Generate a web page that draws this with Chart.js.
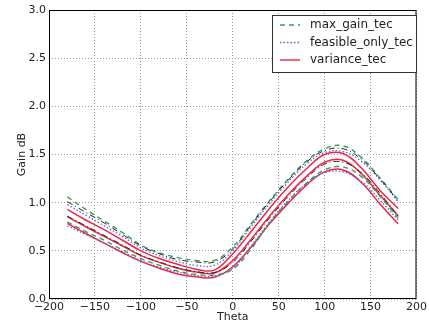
<!DOCTYPE html>
<html>
<head>
<meta charset="utf-8">
<script src="https://cdn.jsdelivr.net/npm/chart.js@4"></script>
<style>
  html, body { margin: 0; padding: 0; background: #fff; }
  #wrap { width: 429px; height: 324px; }
</style>
</head>
<body>
<div id="wrap"><canvas id="chartGain"></canvas></div>
<script>
// sudut (derajat)
const theta = [-180, -160, -140, -120, -100, -80, -60, -40, -20, 0, 20, 40, 60, 80, 100, 120, 140, 160, 180];

// max_gain_tec (atas / bawah)
const maxGainAtas  = [1.06, 0.93, 0.81, 0.69, 0.56, 0.48, 0.43, 0.40, 0.40, 0.54, 0.78, 1.02, 1.24, 1.43, 1.56, 1.59, 1.47, 1.26, 1.03];
const maxGainBawah = [0.80, 0.70, 0.61, 0.51, 0.42, 0.35, 0.29, 0.255, 0.25, 0.31, 0.52, 0.79, 1.01, 1.20, 1.34, 1.37, 1.27, 1.07, 0.84];

// feasible_only_tec (atas / bawah)
const feasibleAtas  = [0.98, 0.87, 0.76, 0.65, 0.53, 0.45, 0.39, 0.35, 0.35, 0.50, 0.75, 0.99, 1.21, 1.40, 1.52, 1.53, 1.43, 1.24, 1.01];
const feasibleBawah = [0.76, 0.67, 0.58, 0.49, 0.40, 0.33, 0.28, 0.245, 0.24, 0.32, 0.55, 0.80, 1.02, 1.20, 1.31, 1.32, 1.22, 1.03, 0.82];

// variance_tec (atas / tengah / bawah)
const varianceAtas   = [0.93, 0.82, 0.72, 0.61, 0.50, 0.42, 0.36, 0.31, 0.30, 0.47, 0.70, 0.94, 1.16, 1.35, 1.50, 1.51, 1.36, 1.13, 0.94];
const varianceTengah = [0.855, 0.75, 0.65, 0.55, 0.45, 0.38, 0.32, 0.28, 0.27, 0.40, 0.62, 0.86, 1.08, 1.27, 1.42, 1.44, 1.30, 1.08, 0.865];
const varianceBawah  = [0.785, 0.68, 0.58, 0.48, 0.39, 0.32, 0.26, 0.23, 0.225, 0.335, 0.54, 0.78, 0.99, 1.18, 1.32, 1.34, 1.21, 0.99, 0.78];

// garis hitam putus-titik (tanpa legenda)
const hitamAtas  = [1.01, 0.90, 0.79, 0.67, 0.55, 0.47, 0.41, 0.385, 0.385, 0.52, 0.77, 1.01, 1.23, 1.42, 1.54, 1.56, 1.45, 1.25, 1.02];
const hitamBawah = [0.86, 0.76, 0.66, 0.56, 0.455, 0.385, 0.325, 0.285, 0.275, 0.38, 0.60, 0.84, 1.06, 1.25, 1.40, 1.42, 1.31, 1.10, 0.86];

const legendLabels = ['max_gain_tec', 'feasible_only_tec', 'variance_tec'];
const xTicks = [-200, -150, -100, -50, 0, 50, 100, 150, 200];
const yTicks = [0.0, 0.5, 1.0, 1.5, 2.0, 2.5, 3.0];

const HIJAU = '#3a9e52';
const BIRU = '#6262dc';
const MERAH = '#ec2744';
const HITAM = '#222222';

function toPoints(arr) {
    return theta.map((t, i) => ({ x: t, y: arr[i] }));
}

function garis(label, arr, color, dash, width) {
    return {
        label: label,
        data: toPoints(arr),
        borderColor: color,
        borderWidth: width,
        borderDash: dash,
        pointRadius: 0,
        tension: 0.4,
        fill: false
    };
}

const datasets = [
    garis('hitam1', hitamAtas, HITAM, [6, 3, 1, 3], 1),
    garis('hitam2', hitamBawah, HITAM, [6, 3, 1, 3], 1),
    garis(legendLabels[1], feasibleAtas, BIRU, [1.5, 2], 1.3),
    garis(legendLabels[1], feasibleBawah, BIRU, [1.5, 2], 1.3),
    garis(legendLabels[0], maxGainAtas, HIJAU, [5, 4], 1.4),
    garis(legendLabels[0], maxGainBawah, HIJAU, [5, 4], 1.4),
    garis(legendLabels[2], varianceAtas, MERAH, [], 1.5),
    garis(legendLabels[2], varianceTengah, MERAH, [], 1.5),
    garis(legendLabels[2], varianceBawah, MERAH, [], 1.5)
];

// bingkai + legenda di dalam area plot
const bingkaiPlugin = {
    id: 'bingkai',
    afterDraw(chart) {
        const ctx = chart.ctx;
        const a = chart.chartArea;
        ctx.save();
        ctx.strokeStyle = '#000';
        ctx.lineWidth = 1;
        ctx.setLineDash([]);
        ctx.strokeRect(a.left + 0.5, a.top + 0.5, a.right - a.left - 1, a.bottom - a.top - 1);

        // legenda
        const bx = 272, by = 15, bw = 144, bh = 57;
        ctx.fillStyle = '#fff';
        ctx.fillRect(bx, by, bw, bh);
        ctx.strokeStyle = '#333';
        ctx.strokeRect(bx + 0.5, by + 0.5, bw, bh);
        const rows = [
            { text: legendLabels[0], color: HIJAU, dash: [5, 4] },
            { text: legendLabels[1], color: BIRU, dash: [1.5, 2] },
            { text: legendLabels[2], color: MERAH, dash: [] }
        ];
        ctx.font = '12px "DejaVu Sans"';
        ctx.textBaseline = 'middle';
        rows.forEach((r, i) => {
            const y = by + 10 + i * 17.5;
            ctx.beginPath();
            ctx.strokeStyle = r.color;
            ctx.lineWidth = 1.4;
            ctx.setLineDash(r.dash);
            ctx.moveTo(bx + 8, y);
            ctx.lineTo(bx + 28, y);
            ctx.stroke();
            ctx.fillStyle = '#222';
            ctx.fillText(r.text, bx + 38, y);
        });
        ctx.restore();
    }
};

new Chart(document.getElementById('chartGain'), {
    type: 'line',
    data: { datasets: datasets },
    options: {
        responsive: true,
        maintainAspectRatio: false,
        animation: false,
        layout: { padding: { left: 16, right: 7, top: 10, bottom: 0 } },
        plugins: {
            legend: { display: false },
            tooltip: { enabled: false }
        },
        scales: {
            x: {
                type: 'linear',
                min: -200,
                max: 200,
                afterBuildTicks: s => { s.ticks = xTicks.map(v => ({ value: v })); },
                afterFit: s => { s.height = 25; },
                grid: { color: '#9a9a9a', lineWidth: 1, drawTicks: false },
                border: { display: false, dash: [1, 2] },
                ticks: {
                    padding: 2,
                    color: '#222',
                    font: { family: 'DejaVu Sans', size: 11 },
                    maxRotation: 0,
                    callback: v => String(v).replace('-', '\u2212')
                },
                title: {
                    display: true,
                    text: 'Theta',
                    color: '#222',
                    padding: 0,
                    font: { family: 'DejaVu Sans', size: 11 }
                }
            },
            y: {
                type: 'linear',
                min: 0,
                max: 3,
                afterBuildTicks: s => { s.ticks = yTicks.map(v => ({ value: v })); },
                afterFit: s => { s.width = 33; },
                grid: { color: '#9a9a9a', lineWidth: 1, drawTicks: false },
                border: { display: false, dash: [1, 2] },
                ticks: {
                    padding: 3,
                    color: '#222',
                    font: { family: 'DejaVu Sans', size: 11 },
                    callback: v => v.toFixed(1)
                },
                title: {
                    display: true,
                    text: 'Gain dB',
                    color: '#222',
                    padding: 0,
                    font: { family: 'DejaVu Sans', size: 11 }
                }
            }
        }
    },
    plugins: [bingkaiPlugin]
});
</script>
</body>
</html>
